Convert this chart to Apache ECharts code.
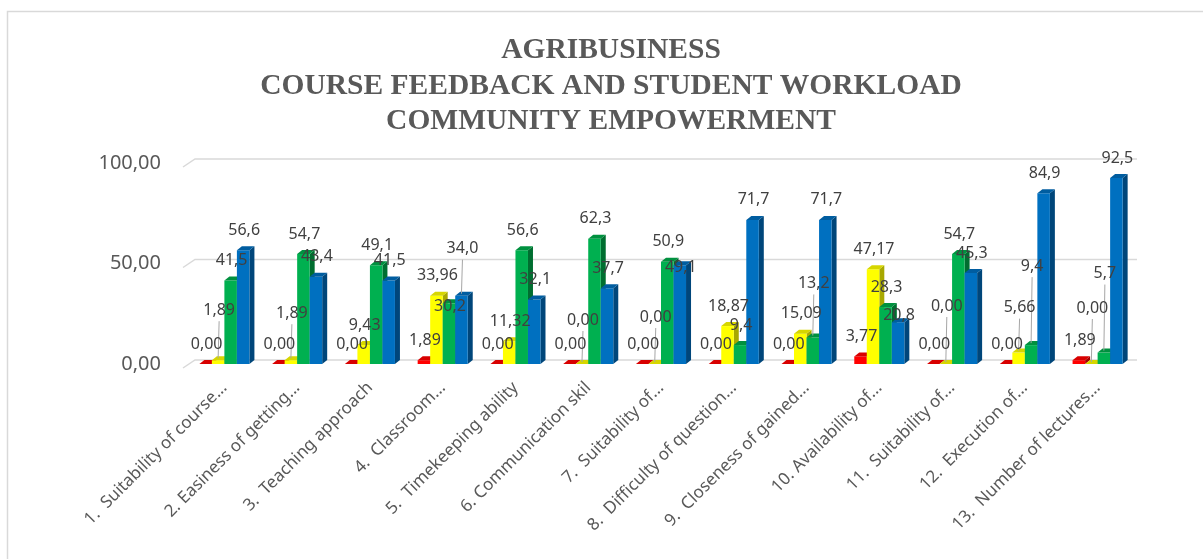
<!DOCTYPE html>
<html>
<head>
<meta charset="utf-8">
<script src="https://cdn.jsdelivr.net/npm/echarts@6/dist/echarts.min.js"></script>
<style>
  html, body { margin: 0; padding: 0; background: #ffffff; }
  #chart { width: 1203px; height: 559px; }
</style>
</head>
<body>
<div id="chart"></div>
<script>
// ---------- DATA ----------
const categories = [
  '1.  Suitability of course...',
  '2. Easiness of getting...',
  '3.  Teaching approach',
  '4.  Classroom...',
  '5.  Timekeeping ability',
  '6. Communication skil',
  '7.  Suitability of...',
  '8.  Difficulty of question...',
  '9.  Closeness of gained...',
  '10. Availability of...',
  '11.  Suitability of...',
  '12.  Execution of...',
  '13.  Number of lectures...'
];
const redValues    = [0.00, 0.00, 0.00, 1.89, 0.00, 0.00, 0.00, 0.00, 0.00, 3.77, 0.00, 0.00, 1.89];
const yellowValues = [1.89, 1.89, 9.43, 33.96, 11.32, 0.00, 0.00, 18.87, 15.09, 47.17, 0.00, 5.66, 0.00];
const greenValues  = [41.5, 54.7, 49.1, 30.2, 56.6, 62.3, 50.9, 9.4, 13.2, 28.3, 54.7, 9.4, 5.7];
const blueValues   = [56.6, 43.4, 41.5, 34.0, 32.1, 37.7, 49.1, 71.7, 71.7, 20.8, 45.3, 84.9, 92.5];
const yTicks = [0, 50, 100];
const titleLines = ['AGRIBUSINESS', 'COURSE FEEDBACK AND STUDENT WORKLOAD', 'COMMUNITY EMPOWERMENT'];

// ---------- STYLE / LAYOUT ----------
const seriesDefs = [
  { name: 'Red',    values: redValues,    front: '#ff0000', top: '#d80000', side: '#a30000', decimals: 2 },
  { name: 'Yellow', values: yellowValues, front: '#ffff00', top: '#d6d600', side: '#a8a800', decimals: 2 },
  { name: 'Green',  values: greenValues,  front: '#00b050', top: '#00913f', side: '#006e30', decimals: 1 },
  { name: 'Blue',   values: blueValues,   front: '#0070c0', top: '#005da0', side: '#00467a', decimals: 1 }
];
// Manual label displacements (px, negative = up) as placed in the original chart
const labelShift = {
  1: { 0: -30, 1: -27, 5: -24, 6: -27, 10: -38, 11: -25, 12: -36 },
  2: { 3: 23, 8: -34, 11: -59, 12: -59 },
  3: { 3: -27, 6: 22, 9: 13 }
};
const DX = 5, DY = 4;

function fmt(v, d) { return v.toFixed(d).replace('.', ','); }

function makeBarRender(k, def) {
  return function (params, api) {
    const cat = api.value(0);
    const val = api.value(1);
    const base = api.coord([cat, 0]);
    const topPt = api.coord([cat, val]);
    const band = api.size([1, 0])[0];
    const bw = band * 0.172;
    const x = base[0] - 2 * bw + k * bw;
    const y0 = base[1];
    const y1 = topPt[1];
    const children = [
      { type: 'polygon', shape: { points: [[x + bw, y1], [x + bw + DX, y1 - DY], [x + bw + DX, y0 - DY], [x + bw, y0]] },
        style: { fill: def.side } },
      { type: 'rect', shape: { x: x, y: y1, width: bw, height: Math.max(0, y0 - y1) },
        style: { fill: def.front } },
      { type: 'polygon', shape: { points: [[x, y1], [x + DX, y1 - DY], [x + bw + DX, y1 - DY], [x + bw, y1]] },
        style: { fill: def.top } }
    ];
    const shift = (labelShift[k] && labelShift[k][cat]) || 0;
    const lx = x + bw / 2 + 1;
    const ly = y1 - 20 + shift;
    children.push({
      type: 'text', z2: 100,
      style: { text: fmt(val, def.decimals), x: lx, y: ly, align: 'center', verticalAlign: 'middle',
               fontSize: 16, fontFamily: 'Noto Sans', fill: '#404040' }
    });
    if (shift < 0) {
      children.push({
        type: 'line', z2: 90,
        shape: { x1: lx, y1: ly + 11, x2: lx - 1, y2: y1 - 2 },
        style: { stroke: '#a6a6a6', lineWidth: 1 }
      });
    }
    return { type: 'group', children: children };
  };
}

const chart = echarts.init(document.getElementById('chart'), null, { renderer: 'canvas' });

const series = [{
  type: 'custom',
  name: 'grid',
  silent: true,
  data: yTicks.map(v => [0, v]),
  renderItem: function (params, api) {
    const cs = params.coordSys;
    const y = api.coord([0, api.value(1)])[1];
    return {
      type: 'polyline',
      shape: { points: [[cs.x - 5, y + 4], [cs.x + 7, y - 4], [cs.x + cs.width + 3, y - 4]] },
      style: { stroke: '#d9d9d9', lineWidth: 1.5, fill: null }
    };
  }
}];
seriesDefs.forEach((def, k) => {
  series.push({
    type: 'custom',
    name: def.name,
    data: def.values.map((v, i) => [i, v]),
    renderItem: makeBarRender(k, def)
  });
});

chart.setOption({
  animation: false,
  backgroundColor: '#ffffff',
  title: {
    text: titleLines.join('\n'),
    left: 606,
    top: 28,
    textAlign: 'center',
    textStyle: {
      fontFamily: 'Liberation Serif',
      fontWeight: 'bold',
      fontSize: 29.5,
      lineHeight: 35.5,
      color: '#595959'
    }
  },
  graphic: [{
    type: 'rect', silent: true,
    shape: { x: 7.5, y: 11.5, width: 1300, height: 700 },
    style: { fill: null, stroke: '#d9d9d9', lineWidth: 1.5 }
  }],
  grid: { left: 188, top: 163, width: 946, height: 201 },
  xAxis: {
    type: 'category',
    data: categories,
    axisLine: { show: false },
    axisTick: { show: false },
    axisLabel: {
      interval: 0, rotate: 45, margin: 21,
      fontSize: 17, fontFamily: 'Noto Sans', color: '#595959'
    }
  },
  yAxis: {
    type: 'value',
    min: yTicks[0], max: yTicks[yTicks.length - 1], interval: yTicks[1] - yTicks[0],
    splitLine: { show: false },
    axisLine: { show: false },
    axisTick: { show: false },
    axisLabel: {
      margin: 27, fontSize: 20, fontFamily: 'Noto Sans', color: '#595959',
      padding: [8, 0, 0, 0],
      formatter: v => fmt(v, 2)
    }
  },
  series: series
});
</script>
</body>
</html>
